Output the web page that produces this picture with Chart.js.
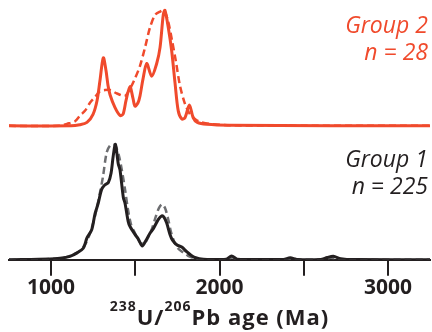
<!DOCTYPE html>
<html lang="en">
<head>
<meta charset="UTF-8">
<title>U-Pb age distributions</title>
<script src="https://cdn.jsdelivr.net/npm/chart.js"></script>
<style>
    body { margin: 0; background: #fff; }
    #wrap { width: 432px; height: 332px; }
</style>
</head>
<body>
<div id="wrap"><canvas id="ageChart"></canvas></div>
<script>
// Group 2 (n = 28), solid curve
const g2Ages = [750, 1120, 1170, 1213, 1249, 1273, 1290, 1310, 1326, 1338, 1350, 1379, 1409, 1427, 1445, 1468, 1486, 1498, 1516, 1528, 1545, 1568, 1597, 1627, 1647, 1666, 1676, 1696, 1716, 1736, 1755, 1776, 1795, 1821, 1844, 1868, 1924, 2060, 3250];
const g2Vals = [0, 0, 0.01, 0.03, 0.10, 0.22, 0.39, 0.59, 0.48, 0.35, 0.27, 0.16, 0.09, 0.10, 0.22, 0.34, 0.24, 0.17, 0.20, 0.26, 0.40, 0.54, 0.43, 0.54, 0.68, 0.96, 1.0, 0.85, 0.65, 0.37, 0.13, 0.06, 0.07, 0.18, 0.07, 0.03, 0.013, 0.005, 0];
// Group 2, dashed curve
const g2DashAges = [750, 1050, 1094, 1142, 1172, 1201, 1231, 1261, 1290, 1320, 1350, 1391, 1439, 1468, 1498, 1528, 1558, 1587, 1617, 1647, 1670, 1694, 1718, 1742, 1765, 1795, 1825, 1854, 1884, 1944, 2060, 3250];
const g2DashVals = [0, 0, 0.017, 0.04, 0.09, 0.13, 0.20, 0.25, 0.30, 0.31, 0.31, 0.28, 0.26, 0.32, 0.41, 0.52, 0.68, 0.85, 0.96, 0.99, 1.0, 0.91, 0.74, 0.55, 0.35, 0.19, 0.10, 0.06, 0.035, 0.017, 0.005, 0];

// Group 1 (n = 225), solid curve
const g1Ages = [750, 993, 1053, 1112, 1154, 1191, 1213, 1241, 1261, 1280, 1300, 1320, 1340, 1356, 1369, 1382, 1399, 1409, 1429, 1439, 1458, 1468, 1498, 1518, 1541, 1564, 1587, 1607, 1637, 1657, 1670, 1686, 1706, 1721, 1746, 1776, 1805, 1831, 1854, 1904, 1990, 2040, 2072, 2105, 2200, 2380, 2420, 2460, 2600, 2640, 2676, 2720, 2800, 3250];
const g1Vals = [0, 0.006, 0.013, 0.03, 0.06, 0.10, 0.19, 0.26, 0.40, 0.49, 0.61, 0.65, 0.67, 0.75, 0.90, 1.0, 0.83, 0.78, 0.54, 0.49, 0.33, 0.29, 0.22, 0.18, 0.12, 0.17, 0.23, 0.27, 0.35, 0.38, 0.37, 0.32, 0.22, 0.17, 0.13, 0.11, 0.07, 0.04, 0.02, 0.004, 0.002, 0.005, 0.032, 0.006, 0.003, 0.003, 0.018, 0.003, 0.003, 0.02, 0.03, 0.01, 0.002, 0];
// Group 1, dashed curve
const g1DashAges = [750, 1053, 1154, 1201, 1231, 1261, 1290, 1308, 1330, 1350, 1368, 1382, 1403, 1421, 1439, 1456, 1474, 1498, 1528, 1552, 1575, 1599, 1623, 1641, 1659, 1676, 1694, 1712, 1730, 1753, 1783, 1813, 1854, 1914, 2040, 2075, 2110, 2390, 2430, 2470, 2610, 2660, 2700, 2760, 3250];
const g1DashVals = [0, 0.013, 0.06, 0.13, 0.23, 0.38, 0.58, 0.72, 0.93, 0.99, 1.0, 0.99, 0.90, 0.77, 0.61, 0.44, 0.31, 0.23, 0.15, 0.14, 0.19, 0.27, 0.38, 0.45, 0.48, 0.45, 0.36, 0.24, 0.16, 0.10, 0.065, 0.035, 0.013, 0.003, 0.003, 0.02, 0.003, 0.002, 0.012, 0.002, 0.002, 0.018, 0.01, 0.002, 0];

const xTickValues = [1000, 1500, 2000, 2500, 3000];
const xTickLabels = ['1000', '', '2000', '', '3000'];

const RED = '#f04a2c';
const DARK = '#231f20';
const GREY = '#6d6e71';
const STACK = 1.16;   // vertical offset of the Group 2 panel

function toPoints(ages, vals, offset) {
    return ages.map((a, i) => ({ x: a, y: vals[i] + offset }));
}

function line(data, color, width, dash) {
    return {
        data: data,
        borderColor: color,
        borderWidth: width,
        borderDash: dash || [],
        borderJoinStyle: 'round',
        pointRadius: 0,
        fill: false,
        tension: 0.3
    };
}

// group labels and the axis title with superscripts
const annotations = {
    id: 'annotations',
    afterDraw(chart) {
        const ctx = chart.ctx;
        const right = chart.chartArea.right - 2;
        ctx.save();
        ctx.textAlign = 'right';
        ctx.textBaseline = 'alphabetic';
        ctx.font = 'italic 23px "Open Sans"';
        ctx.fillStyle = RED;
        ctx.fillText('Group 2', right, 33);
        ctx.fillText('n = 28', right, 60);
        ctx.fillStyle = DARK;
        ctx.fillText('Group 1', right, 167);
        ctx.fillText('n = 225', right, 194);

        const parts = [
            ['238', 'bold 14px "Open Sans"', -14],
            ['U/', 'bold 22px "Open Sans"', 0],
            ['206', 'bold 14px "Open Sans"', -14],
            ['Pb age (Ma)', 'bold 22px "Open Sans"', 0]
        ];
        ctx.textAlign = 'left';
        ctx.letterSpacing = '1px';
        let total = 0;
        parts.forEach(p => { ctx.font = p[1]; total += ctx.measureText(p[0]).width; });
        let x = (chart.chartArea.left + chart.chartArea.right) / 2 - total / 2;
        parts.forEach(p => {
            ctx.font = p[1];
            ctx.fillText(p[0], x, 325 + p[2]);
            x += ctx.measureText(p[0]).width;
        });
        ctx.restore();
    }
};

new Chart(document.getElementById('ageChart'), {
    type: 'line',
    data: {
        datasets: [
            line(toPoints(g2Ages, g2Vals, STACK), RED, 3),
            line(toPoints(g2DashAges, g2DashVals, STACK), RED, 2.5, [7, 4]),
            line(toPoints(g1Ages, g1Vals, 0), DARK, 3),
            line(toPoints(g1DashAges, g1DashVals, 0), GREY, 2.5, [7, 4])
        ]
    },
    options: {
        responsive: true,
        maintainAspectRatio: false,
        animation: false,
        layout: { padding: { left: 9, right: 2, top: 0, bottom: 31 } },
        plugins: { legend: { display: false }, tooltip: { enabled: false } },
        scales: {
            x: {
                type: 'linear',
                min: 750,
                max: 3250,
                afterBuildTicks: axis => { axis.ticks = xTickValues.map(v => ({ value: v })); },
                ticks: {
                    padding: 0,
                    color: DARK,
                    font: { family: 'Open Sans', size: 21, weight: 'bold' },
                    callback: (v, i) => xTickLabels[i]
                },
                grid: { drawOnChartArea: false, drawTicks: true, tickLength: 16, color: DARK, lineWidth: 2 },
                border: { display: true, color: DARK, width: 2 }
            },
            y: { display: false, min: 0, max: 2.25 }
        }
    },
    plugins: [annotations]
});
</script>
</body>
</html>
